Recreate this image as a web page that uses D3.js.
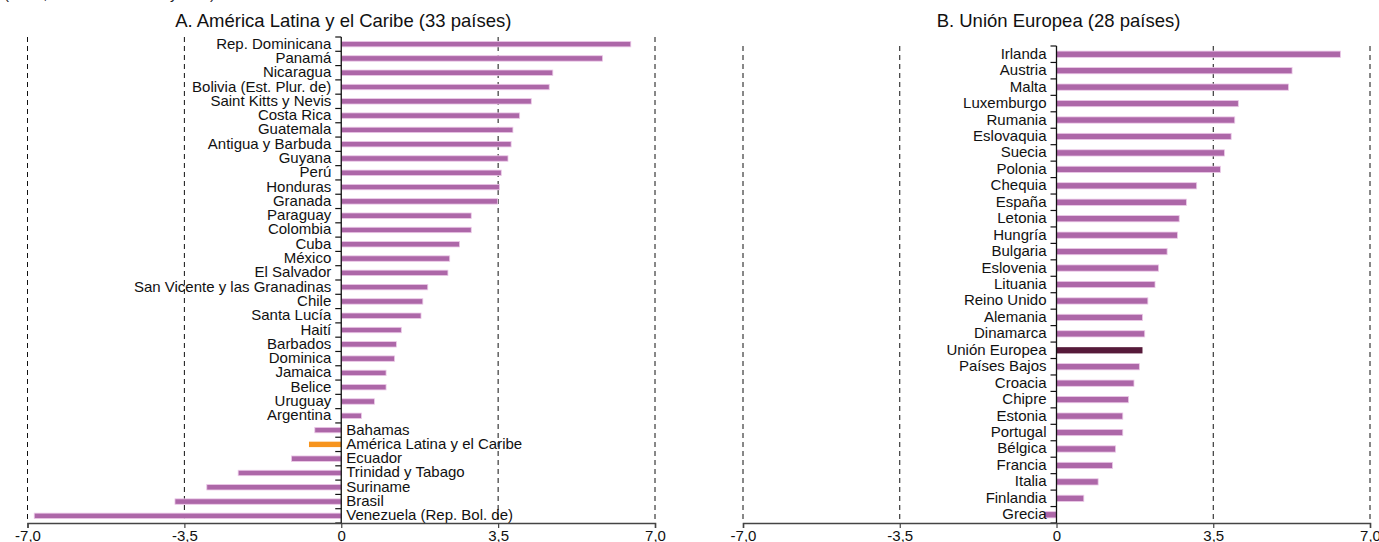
<!DOCTYPE html>
<html><head><meta charset="utf-8">
<script src="https://cdn.jsdelivr.net/npm/d3@7"></script>
<style>
body{margin:0;background:#fff;}
svg{display:block;font-family:"Liberation Sans",Arial,sans-serif;}
</style></head>
<body>
<svg id="c" width="1379" height="542"></svg>
<script>
// ---- Data ----
const latamCountries = ["Rep. Dominicana","Panamá","Nicaragua","Bolivia (Est. Plur. de)","Saint Kitts y Nevis","Costa Rica","Guatemala","Antigua y Barbuda","Guyana","Perú","Honduras","Granada","Paraguay","Colombia","Cuba","México","El Salvador","San Vicente y las Granadinas","Chile","Santa Lucía","Haití","Barbados","Dominica","Jamaica","Belice","Uruguay","Argentina","Bahamas","América Latina y el Caribe","Ecuador","Trinidad y Tabago","Suriname","Brasil","Venezuela (Rep. Bol. de)"];
const latamValues = [6.46,5.83,4.72,4.64,4.24,3.98,3.83,3.79,3.72,3.57,3.53,3.49,2.90,2.90,2.64,2.42,2.38,1.93,1.82,1.78,1.34,1.23,1.19,1.00,1.00,0.74,0.45,-0.59,-0.72,-1.11,-2.30,-3.00,-3.71,-6.85];
const latamAggregate = "América Latina y el Caribe";

const euCountries = ["Irlanda","Austria","Malta","Luxemburgo","Rumania","Eslovaquia","Suecia","Polonia","Chequia","España","Letonia","Hungría","Bulgaria","Eslovenia","Lituania","Reino Unido","Alemania","Dinamarca","Unión Europea","Países Bajos","Croacia","Chipre","Estonia","Portugal","Bélgica","Francia","Italia","Finlandia","Grecia"];
const euValues = [6.34,5.26,5.18,4.06,3.98,3.90,3.75,3.66,3.13,2.90,2.74,2.70,2.47,2.28,2.20,2.04,1.92,1.97,1.92,1.85,1.73,1.61,1.48,1.48,1.32,1.25,0.93,0.61,-0.27];
const euAggregate = "Unión Europea";

const xTicks = [-7,-3.5,0,3.5,7];
const xTickLabels = ["-7,0","-3,5","0","3,5","7,0"];
const titleA = "A. América Latina y el Caribe (33 países)";
const titleB = "B. Unión Europea (28 países)";
const unitNote = "(en %, tasa media anual y total)";

// ---- Drawing ----
const svg = d3.select("#c");
const BAR = "#ad67a8", BAR_EDGE = "#ecc9e8";

svg.append("text").attr("x",4).attr("y",-1).attr("font-size",15).attr("fill","#222").text(unitNote);

function panel(cfg){
  const x = d3.scaleLinear().domain([-7,7]).range([cfg.x0,cfg.x1]);
  const y = d3.scaleBand().domain(cfg.cats).range([cfg.top,cfg.bottom]).paddingInner(0).paddingOuter(0);
  const g = svg.append("g");
  const bw = y.bandwidth();
  const bh = bw*0.38;

  g.append("text").attr("x",x(0)+2).attr("y",26.5).attr("text-anchor","middle")
    .attr("font-size",18.5).attr("fill","#111").text(cfg.title);

  g.selectAll("line.grid").data(xTicks.filter(d=>d!==0)).join("line")
    .attr("x1",d=>x(d)).attr("x2",d=>x(d)).attr("y1",cfg.top).attr("y2",cfg.bottom)
    .attr("stroke","#111").attr("stroke-width",1).attr("stroke-dasharray","5,4");

  const data = cfg.cats.map((c,i)=>({c, v:cfg.vals[i]}));
  g.selectAll("rect.bar").data(data).join("rect")
    .attr("x",d=>x(Math.min(0,d.v))).attr("width",d=>Math.abs(x(d.v)-x(0)))
    .attr("y",d=>y(d.c)+bw/2-bh/2).attr("height",bh)
    .attr("fill",d=>d.c===cfg.agg?cfg.aggColor:BAR)
    .attr("stroke",d=>d.c===cfg.agg?"none":BAR_EDGE).attr("stroke-width",0.8);

  const right = d=> cfg.negRight && d.v<0;
  g.selectAll("text.lab").data(data).join("text")
    .attr("x",d=>right(d)? x(0)+5 : x(0)-10)
    .attr("y",d=>y(d.c)+bw/2+4.5)
    .attr("text-anchor",d=>right(d)?"start":"end")
    .attr("font-size",15).attr("fill","#111").text(d=>d.c);

  const bounds = cfg.cats.map(c=>y(c)).concat([cfg.bottom]);
  g.selectAll("line.yt").data(bounds).join("line")
    .attr("x1",x(0)-6).attr("x2",x(0)).attr("y1",d=>d).attr("y2",d=>d)
    .attr("stroke","#111").attr("stroke-width",1.2);
  g.append("line").attr("x1",x(0)).attr("x2",x(0)).attr("y1",cfg.top).attr("y2",cfg.bottom)
    .attr("stroke","#111").attr("stroke-width",1.3);

  const ax = d3.axisBottom(x).tickValues(xTicks).tickSize(5).tickFormat((d,i)=>xTickLabels[i]);
  const axg = g.append("g").attr("transform",`translate(0,${cfg.bottom})`).call(ax);
  axg.select(".domain").attr("stroke","#444").attr("stroke-width",1.5);
  axg.selectAll(".tick line").attr("stroke","#444").attr("stroke-width",1.2);
  axg.selectAll(".tick text").attr("font-size",15).attr("font-family","Liberation Sans, Arial, sans-serif")
    .attr("fill","#111").attr("dy","0").attr("y",18);
}

panel({x0:27.5,x1:655,top:37,bottom:523,cats:latamCountries,vals:latamValues,agg:latamAggregate,aggColor:"#f7941d",title:titleA,negRight:true});
panel({x0:743,x1:1370,top:46,bottom:523,cats:euCountries,vals:euValues,agg:euAggregate,aggColor:"#561a3a",title:titleB,negRight:false});
</script>
</body></html>
